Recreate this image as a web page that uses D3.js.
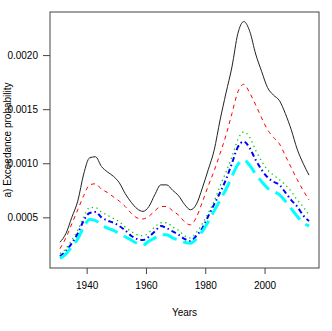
<!DOCTYPE html>
<html>
<head>
<meta charset="utf-8">
<script src="https://cdn.jsdelivr.net/npm/d3@7"></script>
<style>
  body { margin: 0; background: #fff; }
  text { font-family: "Liberation Sans", Arial, sans-serif; fill: #000; }
</style>
</head>
<body>
<svg id="chart"></svg>
<script>
// Years sampled along the curves
const years = [1931, 1933, 1935, 1937, 1939, 1941, 1943, 1945, 1947, 1949,
  1951, 1953, 1955, 1957, 1959, 1961, 1963, 1965, 1967, 1969,
  1971, 1973, 1975, 1977, 1979, 1981, 1983, 1985, 1987, 1989,
  1991, 1993, 1995, 1997, 1999, 2001, 2003, 2005, 2007, 2009,
  2011, 2013, 2015];

const blackSeries = [0.00027, 0.00035, 0.00050, 0.00065, 0.00090, 0.00105, 0.00106, 0.00097, 0.00092, 0.00088,
  0.00082, 0.00072, 0.00064, 0.00058, 0.000555, 0.00060, 0.00071, 0.00080, 0.00080, 0.00075,
  0.00070, 0.00062, 0.00057, 0.00062, 0.00077, 0.00094, 0.00112, 0.00140, 0.00165, 0.00189,
  0.00220, 0.00231, 0.00222, 0.00201, 0.00185, 0.00170, 0.00163, 0.00158, 0.00146, 0.00131,
  0.00113, 0.00100, 0.00089];

const redSeries = [0.00021, 0.00031, 0.00044, 0.00057, 0.00070, 0.00080, 0.00081, 0.00076, 0.00073, 0.00069,
  0.00065, 0.00060, 0.00054, 0.000495, 0.000485, 0.00051, 0.00056, 0.00060, 0.00060, 0.00056,
  0.00052, 0.00046, 0.00043, 0.00050, 0.00064, 0.00079, 0.00093, 0.00109, 0.00126, 0.00146,
  0.00166, 0.00173, 0.00165, 0.00154, 0.00142, 0.00131, 0.00124, 0.00118, 0.00107, 0.00096,
  0.00085, 0.00075, 0.00066];

const greenSeries = [0.000165, 0.00021, 0.00029, 0.00038, 0.00050, 0.00059, 0.00059, 0.00055, 0.00052, 0.00049,
  0.00046, 0.00041, 0.00037, 0.00034, 0.00033, 0.00036, 0.00041, 0.00045, 0.00045, 0.00041,
  0.00038, 0.00033, 0.00031, 0.00036, 0.00044, 0.00054, 0.00065, 0.00079, 0.00092, 0.00106,
  0.00122, 0.00129, 0.00124, 0.00112, 0.00102, 0.00094, 0.00089, 0.00085, 0.00080, 0.00074,
  0.00066, 0.00060, 0.00052];

const blueSeries = [0.00014, 0.00019, 0.00026, 0.00035, 0.00047, 0.00054, 0.00055, 0.00050, 0.00047, 0.00045,
  0.00042, 0.00038, 0.00033, 0.00030, 0.00029, 0.00032, 0.00037, 0.00042, 0.00040, 0.00037,
  0.00034, 0.00030, 0.00028, 0.00033, 0.00040, 0.00051, 0.00062, 0.00073, 0.00085, 0.00100,
  0.00115, 0.00120, 0.00114, 0.00103, 0.00094, 0.00087, 0.00083, 0.00080, 0.00073, 0.00066,
  0.00060, 0.00052, 0.000465];

const cyanSeries = [0.00012, 0.00016, 0.00023, 0.00030, 0.00041, 0.00048, 0.00047, 0.00043, 0.00040, 0.00038,
  0.00035, 0.00032, 0.00029, 0.00026, 0.000245, 0.00028, 0.00031, 0.00034, 0.00034, 0.00031,
  0.00029, 0.00027, 0.00026, 0.00030, 0.00037, 0.00046, 0.00056, 0.00066, 0.00076, 0.00088,
  0.00099, 0.00103, 0.00098, 0.00090, 0.00083, 0.00077, 0.00074, 0.00071, 0.00065, 0.00058,
  0.00051, 0.00045, 0.00042];

const xTicks = [1940, 1960, 1980, 2000];
const yTicks = [0.0005, 0.0010, 0.0015, 0.0020];

const width = 332, height = 331;
const margin = { top: 12, right: 13, bottom: 63, left: 50 };

const svg = d3.select("#chart").attr("width", width).attr("height", height);

// R-style 4% padding around the data range
const x = d3.scaleLinear()
  .domain([1927.64, 2018.36])
  .range([margin.left, width - margin.right]);

const y = d3.scaleLinear()
  .domain([0.0000316, 0.0023984])
  .range([height - margin.bottom, margin.top]);

// box
svg.append("rect")
  .attr("x", margin.left)
  .attr("y", margin.top)
  .attr("width", width - margin.right - margin.left)
  .attr("height", height - margin.bottom - margin.top)
  .attr("fill", "none")
  .attr("stroke", "#444")
  .attr("stroke-width", 1);

// x axis
const xAxis = svg.append("g")
  .attr("transform", "translate(0," + (height - margin.bottom) + ")")
  .call(d3.axisBottom(x).tickValues(xTicks).tickFormat(d3.format("d")).tickSize(6).tickPadding(8));
xAxis.select(".domain").remove();
xAxis.selectAll("line").attr("stroke", "#444");
xAxis.selectAll("text").attr("font-size", 10).attr("font-family", "Liberation Sans, Arial, sans-serif");

// y axis
const yAxis = svg.append("g")
  .attr("transform", "translate(" + margin.left + ",0)")
  .call(d3.axisLeft(y).tickValues(yTicks).tickFormat(d3.format(".4f")).tickSize(7).tickPadding(5));
yAxis.select(".domain").remove();
yAxis.selectAll("line").attr("stroke", "#444");
yAxis.selectAll("text").attr("font-size", 10).attr("font-family", "Liberation Sans, Arial, sans-serif");

// axis titles
svg.append("text")
  .attr("x", (margin.left + width - margin.right) / 2)
  .attr("y", 316)
  .attr("text-anchor", "middle")
  .attr("font-size", 10)
  .text("Years");

svg.append("text")
  .attr("transform", "translate(11," + (margin.top + height - margin.bottom) / 2 + ") rotate(-90)")
  .attr("text-anchor", "middle")
  .attr("font-size", 10)
  .text("a) Exceedance probability");

// lines
const line = d3.line()
  .x((d, i) => x(years[i]))
  .y(d => y(d))
  .curve(d3.curveMonotoneX);

const series = [
  { values: blackSeries, color: "#222", width: 1, dash: null },
  { values: redSeries, color: "#ff0000", width: 1, dash: "4,4" },
  { values: greenSeries, color: "#00cd00", width: 1.3, dash: "1.3,3.5" },
  { values: blueSeries, color: "#0000ff", width: 2, dash: "5,3,1.5,3" },
  { values: cyanSeries, color: "#00ffff", width: 3, dash: "15,7" }
];

svg.append("g")
  .selectAll("path")
  .data(series)
  .join("path")
  .attr("d", d => line(d.values))
  .attr("fill", "none")
  .attr("stroke", d => d.color)
  .attr("stroke-width", d => d.width)
  .attr("stroke-dasharray", d => d.dash);
</script>
</body>
</html>
